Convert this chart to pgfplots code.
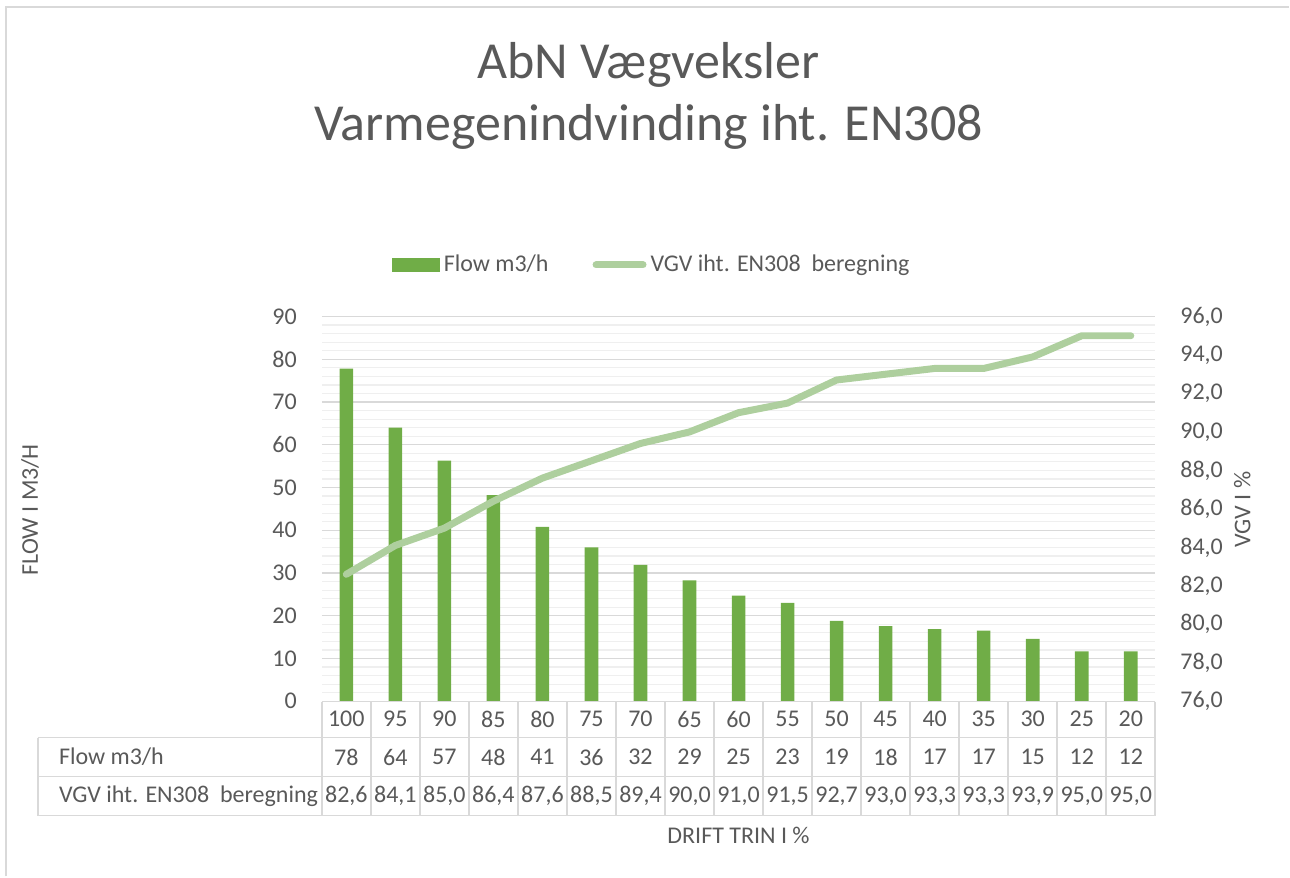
\documentclass[border=0pt]{standalone}
\usepackage{pgfplots}
\pgfplotsset{compat=1.18}
\usepackage{fontspec}
\setmainfont{Carlito}
\definecolor{txt}{HTML}{595959}
\definecolor{barc}{HTML}{70AD47}
\definecolor{linec}{HTML}{AECF9E}
\definecolor{gridc}{HTML}{D9D9D9}
\definecolor{gridm}{HTML}{EFEFEF}
\begin{document}
\begin{tikzpicture}[font=\fontsize{12}{14}\selectfont, text=txt]
\path (0pt,0pt) rectangle (645pt,-438.5pt);
\draw[gridc, line width=0.8pt] (3pt,-438.5pt) -- (3pt,-3.5pt) -- (645pt,-3.5pt);
\node[font=\fontsize{26}{31}\selectfont] at (324.5pt,-32.5pt) {AbN Vægveksler};
\node[font=\fontsize{26}{31}\selectfont] at (324.5pt,-63.5pt) {Varmegenindvinding iht. EN308};
\node[rotate=90] at (15pt,-255pt) {FLOW I M3/H};
\node[rotate=90] at (621.5pt,-255pt) {VGV I \%};
\node at (369.5pt,-418pt) {DRIFT TRIN I \%};

\begin{axis}[
  at={(161pt,-350.85pt)}, anchor=south west,
  scale only axis, width=417pt, height=192.5pt,
  xmin=-0.5, xmax=16.5, ymin=0, ymax=90,
  xtick={0,...,16},
  xticklabels={100,95,90,85,80,75,70,65,60,55,50,45,40,35,30,25,20},
  xticklabel style={anchor=center, yshift=-9pt, text=txt},
  ytick={0,10,...,90}, minor y tick num=4,
  ymajorgrids, yminorgrids,
  major grid style={gridc, line width=0.7pt},
  minor grid style={gridm, line width=0.6pt},
  axis line style={draw=none},
  major tick length=0pt, minor tick length=0pt,
  yticklabel style={text=txt, /pgf/number format/assume math mode=true, xshift=-9pt},
  clip=false,
]
\addplot[ybar, bar width=6.8pt, fill=barc, draw=none] coordinates {
(0,77.8) (1,64.0) (2,56.3) (3,48.2) (4,40.8) (5,36.0) (6,31.9) (7,28.3) (8,24.7)
(9,23.0) (10,18.8) (11,17.6) (12,16.9) (13,16.5) (14,14.6) (15,11.7) (16,11.7)};
\end{axis}

\begin{axis}[
  at={(161pt,-350.85pt)}, anchor=south west,
  scale only axis, width=417pt, height=192.5pt,
  xmin=-0.5, xmax=16.5, ymin=76, ymax=96,
  axis x line=none, axis y line*=right,
  axis line style={draw=none},
  ytick={76,78,...,96},
  major tick length=0pt,
  yticklabel style={text=txt, xshift=9pt, /pgf/number format/.cd, fixed, fixed zerofill, precision=1, use comma, assume math mode=true},
  legend columns=2,
  legend style={at={(0.397,1.134)}, anchor=center, draw=none, fill=none, text=txt,
    /tikz/every even column/.append style={column sep=20pt}},
  legend cell align=left,
  clip=false,
]
\addlegendimage{legend image code/.code={\fill[barc] (0pt,-3.3pt) rectangle (23.5pt,3.3pt);}}
\addlegendentry{Flow m3/h}
\addplot[linec, line width=3.5pt, line cap=round, line join=round,
  legend image code/.code={\draw[linec, line width=3.5pt, line cap=round] (1.5pt,0pt) -- (25pt,0pt);}]
coordinates {
(0,82.6) (1,84.1) (2,85.0) (3,86.4) (4,87.6) (5,88.5) (6,89.4) (7,90.0) (8,91.0)
(9,91.5) (10,92.7) (11,93.0) (12,93.3) (13,93.3) (14,93.9) (15,95.0) (16,95.0)};
\addlegendentry{VGV iht. EN308~ beregning}
\end{axis}

% data table below the chart
\begin{scope}[gridc, line width=0.8pt]
\draw (161pt,-351pt) -- (578pt,-351pt);
\draw (19pt,-369pt) -- (578pt,-369pt);
\draw (19pt,-388.5pt) -- (578pt,-388.5pt);
\draw (19pt,-408pt) -- (578pt,-408pt);
\draw (19pt,-369pt) -- (19pt,-408pt);
\foreach \k in {0,...,17} {\draw ({161pt+\k*417pt/17},-351pt) -- ({161pt+\k*417pt/17},-408pt);}
\end{scope}
\node[anchor=west] at (26pt,-378.75pt) {Flow m3/h};
\node[anchor=west] at (26pt,-398.25pt) {VGV iht. EN308~ beregning};
\foreach \v [count=\i from 0] in {78,64,57,48,41,36,32,29,25,23,19,18,17,17,15,12,12}
  {\node at ({161pt+(\i+0.5)*417pt/17},-378.75pt) {\v};}
\foreach \v [count=\i from 0] in {82{,}6,84{,}1,85{,}0,86{,}4,87{,}6,88{,}5,89{,}4,90{,}0,91{,}0,91{,}5,92{,}7,93{,}0,93{,}3,93{,}3,93{,}9,95{,}0,95{,}0}
  {\node at ({161pt+(\i+0.5)*417pt/17},-398.25pt) {\v};}
\end{tikzpicture}
\end{document}
